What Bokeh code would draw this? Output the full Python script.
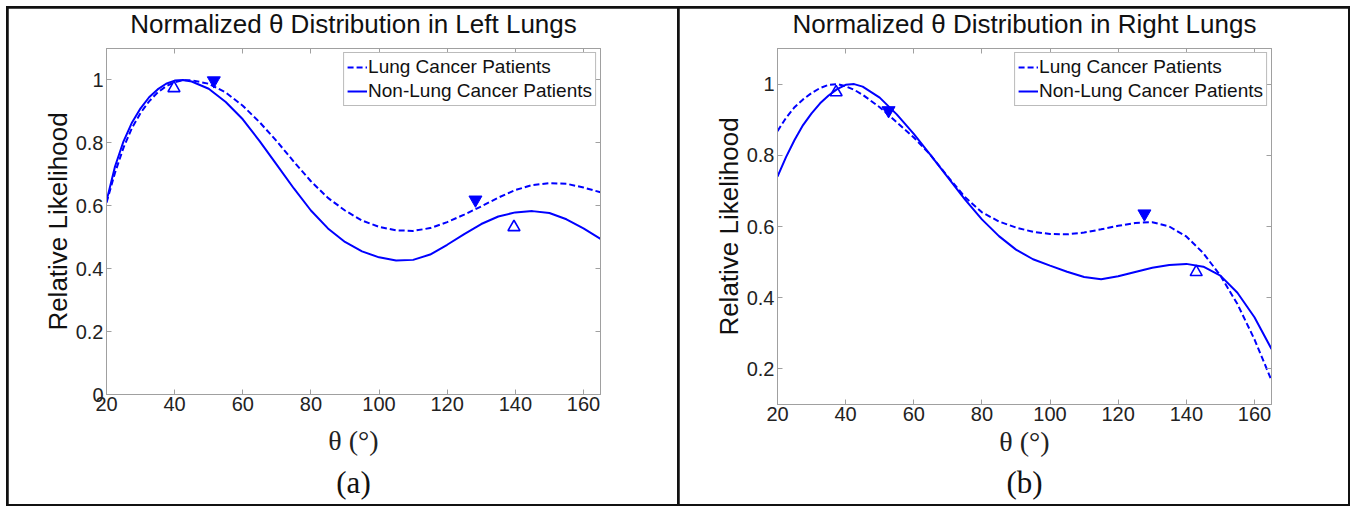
from bokeh.plotting import figure
from bokeh.models import Range1d, FixedTicker, LinearAxis, Title
from bokeh.layouts import row
from bokeh.embed import file_html
from bokeh.resources import INLINE

# ---------------- data ----------------
theta = [20, 22.5, 25, 27.5, 30, 32.5, 35, 37.5, 40, 42.5, 45, 50, 55, 60, 65, 70, 75, 80,
         85, 90, 95, 100, 105, 110, 115, 120, 125, 130, 135, 140, 145, 150, 155, 160, 165]

left_cancer = [0.610, 0.705, 0.785, 0.848, 0.895, 0.932, 0.960, 0.980, 0.993, 0.999, 0.999,
               0.988, 0.960, 0.918, 0.865, 0.805, 0.740, 0.678, 0.625, 0.585, 0.553, 0.533,
               0.522, 0.520, 0.529, 0.548, 0.572, 0.598, 0.626, 0.650, 0.666, 0.672, 0.670,
               0.658, 0.643]
left_noncancer = [0.615, 0.725, 0.805, 0.865, 0.910, 0.945, 0.970, 0.988, 0.998, 1.000, 0.995,
                  0.972, 0.930, 0.875, 0.805, 0.730, 0.655, 0.585, 0.528, 0.485, 0.455, 0.436,
                  0.426, 0.428, 0.445, 0.476, 0.510, 0.542, 0.566, 0.579, 0.583, 0.577, 0.557,
                  0.528, 0.495]
right_cancer = [0.868, 0.905, 0.935, 0.957, 0.975, 0.989, 0.998, 1.000, 0.994, 0.984, 0.970,
                0.935, 0.893, 0.850, 0.800, 0.740, 0.683, 0.640, 0.614, 0.597, 0.585, 0.579,
                0.578, 0.583, 0.592, 0.602, 0.610, 0.612, 0.600, 0.572, 0.525, 0.462, 0.382,
                0.283, 0.168]
right_noncancer = [0.740, 0.795, 0.843, 0.885, 0.918, 0.946, 0.968, 0.986, 0.998, 1.000, 0.993,
                   0.962, 0.915, 0.860, 0.800, 0.738, 0.676, 0.620, 0.573, 0.535, 0.508, 0.490,
                   0.473, 0.458, 0.452, 0.460, 0.472, 0.484, 0.492, 0.495, 0.487, 0.462, 0.414,
                   0.345, 0.256]

# marker positions (open up-triangles: non-cancer, filled down-triangles: cancer)
left_open_x, left_open_y = [39.8, 139.6], [0.974, 0.532]
left_fill_x, left_fill_y = [51.5, 128.3], [0.998, 0.619]
right_open_x, right_open_y = [37.2, 142.9], [0.977, 0.472]
right_fill_x, right_fill_y = [52.6, 127.7], [0.926, 0.636]

x_ticks = [20, 40, 60, 80, 100, 120, 140, 160]
x_tick_labels = ["20", "40", "60", "80", "100", "120", "140", "160"]
left_y_ticks = [0, 0.2, 0.4, 0.6, 0.8, 1]
left_y_tick_labels = ["0", "0.2", "0.4", "0.6", "0.8", "1"]
right_y_ticks = [0.2, 0.4, 0.6, 0.8, 1]
right_y_tick_labels = ["0.2", "0.4", "0.6", "0.8", "1"]

titles = ["Normalized \u03b8 Distribution in Left Lungs",
          "Normalized \u03b8 Distribution in Right Lungs"]
captions = ["(a)", "(b)"]
series_names = ["Lung Cancer Patients", "Non-Lung Cancer Patients"]

SANS = "Liberation Sans"
SERIF = "Liberation Serif"
BLUE = "#0000FF"
GRAY = "#a0a0a0"
H = 496


def make_panel(width, bl, br, bb, ylo, yhi, yticks, ylabels, cancer, noncancer,
               ox, oy, fx, fy, title, caption, lab_standoff, cap_standoff):
    p = figure(width=width, height=H, output_backend="svg", toolbar_location=None,
               x_range=Range1d(20, 165), y_range=Range1d(ylo, yhi),
               min_border_left=bl, min_border_right=br, min_border_top=40,
               min_border_bottom=bb, frame_align=False)
    p.grid.visible = False
    p.outline_line_color = GRAY
    p.outline_line_width = 1
    p.background_fill_color = "white"
    p.border_fill_color = "white"

    p.title.text = title
    p.title.align = "center"
    p.title.text_font = SANS
    p.title.text_font_size = "26px"
    p.title.text_font_style = "normal"
    p.title.text_color = "#111111"
    p.title.standoff = -4
    p.title.padding = dict(left=0, right=0, top=0, bottom=12)

    xlab = dict(zip(x_ticks, x_tick_labels))
    ylab = dict(zip(yticks, ylabels))

    for ax in p.xaxis:
        ax.ticker = FixedTicker(ticks=x_ticks)
        ax.major_label_overrides = xlab
        ax.axis_label = "\u03b8 (\u00b0)"
        ax.axis_label_text_font = SERIF
        ax.axis_label_text_font_size = "28px"
        ax.axis_label_text_font_style = "normal"
        ax.axis_label_text_color = "#222222"
        ax.axis_label_standoff = lab_standoff
        ax.major_label_standoff = 2
    for ax in p.yaxis:
        ax.ticker = FixedTicker(ticks=yticks)
        ax.major_label_overrides = ylab
        ax.axis_label = "Relative Likelihood"
        ax.axis_label_text_font = SANS
        ax.axis_label_text_font_size = "26px"
        ax.axis_label_text_font_style = "normal"
        ax.axis_label_text_color = "#111111"
        ax.axis_label_standoff = 0
        ax.major_label_standoff = 3
    for ax in list(p.xaxis) + list(p.yaxis):
        ax.major_label_text_font = SANS
        ax.major_label_text_font_size = "20px"
        ax.major_label_text_color = "#222222"
        ax.axis_line_color = GRAY
        ax.major_tick_line_color = GRAY
        ax.major_tick_in = 5
        ax.major_tick_out = 0
        ax.minor_tick_line_color = None

    # box ticks on top and right (no labels)
    top = LinearAxis(ticker=FixedTicker(ticks=x_ticks),
                     major_label_overrides={t: "" for t in x_ticks},
                     major_label_text_font_size="1px",
                     major_label_standoff=0, axis_line_color=GRAY, major_tick_line_color=GRAY,
                     major_tick_in=5, major_tick_out=0, minor_tick_line_color=None)
    right = LinearAxis(ticker=FixedTicker(ticks=yticks),
                       major_label_overrides={t: "" for t in yticks},
                       major_label_text_font_size="1px",
                       major_label_standoff=0, axis_line_color=GRAY, major_tick_line_color=GRAY,
                       major_tick_in=5, major_tick_out=0, minor_tick_line_color=None)
    p.add_layout(top, "above")
    p.add_layout(right, "right")

    p.line(theta, cancer, line_color=BLUE, line_width=2, line_dash="6 3",
           legend_label=series_names[0])
    p.line(theta, noncancer, line_color=BLUE, line_width=2, legend_label=series_names[1])
    p.scatter(ox, oy, marker="triangle", size=12, fill_color="white", fill_alpha=0,
              line_color=BLUE, line_width=1.6)
    p.scatter(fx, fy, marker="inverted_triangle", size=13, fill_color=BLUE,
              line_color=BLUE, line_width=1)

    lg = p.legend[0]
    lg.location = "top_right"
    lg.margin = 4
    lg.padding = 3
    lg.spacing = 2
    lg.glyph_width = 20
    lg.glyph_height = 20
    lg.label_height = 20
    lg.label_standoff = 1
    lg.label_text_font = SANS
    lg.label_text_font_size = "19px"
    lg.label_text_color = "#111111"
    lg.border_line_color = "#777777"
    lg.border_line_width = 1
    lg.background_fill_color = "white"
    lg.background_fill_alpha = 1

    cap = Title(text=caption, align="center", text_font=SERIF, text_font_size="31px",
                text_font_style="normal", text_color="#111111", standoff=cap_standoff)
    p.add_layout(cap, "below")
    return p


p1 = make_panel(669, 98, 77, 110, 0, 1.1, left_y_ticks, left_y_tick_labels,
                left_cancer, left_noncancer, left_open_x, left_open_y,
                left_fill_x, left_fill_y, titles[0], captions[0], 11, 9)
p2 = make_panel(669, 98, 77, 100, 0.1, 1.1, right_y_ticks, right_y_tick_labels,
                right_cancer, right_noncancer, right_open_x, right_open_y,
                right_fill_x, right_fill_y, titles[1], captions[1], 2, 7)

p = row(p1, p2, spacing=2,
        styles={"background-color": "#111111", "padding": "2px", "margin": "6px",
                "width": "fit-content"})
open("out.html", "w").write(file_html(p, INLINE))
